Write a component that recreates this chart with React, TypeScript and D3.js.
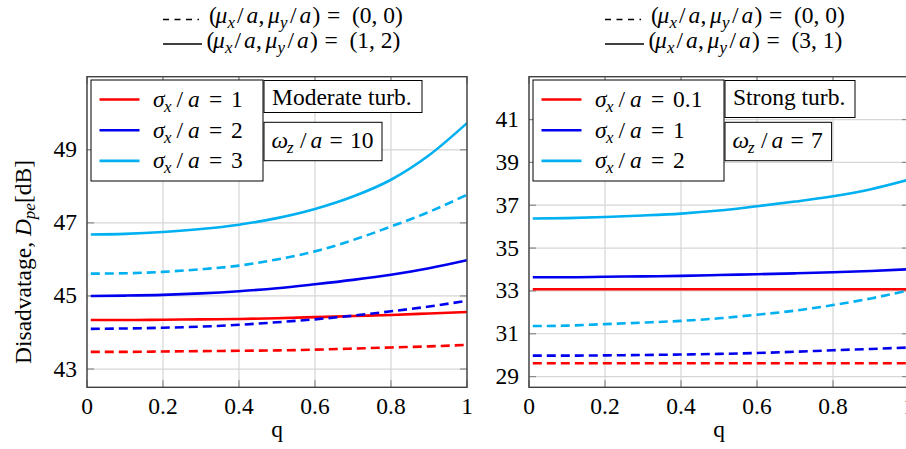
import React from "react";
import * as d3 from "d3";

const qVals = [0.01, 0.1, 0.2, 0.3, 0.4, 0.5, 0.6, 0.7, 0.8, 0.9, 1.0];

// Left panel: Moderate turbulence, omega_z/a = 10
const modS1Solid = [44.34, 44.34, 44.35, 44.36, 44.37, 44.39, 44.42, 44.45, 44.48, 44.52, 44.56];
const modS1Dash = [43.47, 43.47, 43.48, 43.49, 43.5, 43.51, 43.53, 43.56, 43.59, 43.62, 43.66];
const modS2Solid = [45.0, 45.01, 45.03, 45.07, 45.13, 45.21, 45.32, 45.44, 45.58, 45.76, 45.98];
const modS2Dash = [44.1, 44.11, 44.13, 44.16, 44.21, 44.28, 44.36, 44.46, 44.58, 44.71, 44.87];
const modS3Solid = [46.68, 46.7, 46.75, 46.83, 46.95, 47.13, 47.38, 47.72, 48.18, 48.85, 49.73];
const modS3Dash = [45.61, 45.62, 45.66, 45.73, 45.83, 46.0, 46.22, 46.53, 46.9, 47.3, 47.77];

// Right panel: Strong turbulence, omega_z/a = 7
const strS1Solid = [33.08, 33.08, 33.08, 33.08, 33.08, 33.08, 33.08, 33.08, 33.08, 33.08, 33.08];
const strS1Dash = [29.62, 29.62, 29.62, 29.62, 29.62, 29.62, 29.62, 29.62, 29.62, 29.62, 29.62];
const strS2Solid = [33.64, 33.64, 33.66, 33.68, 33.7, 33.74, 33.78, 33.82, 33.87, 33.93, 34.01];
const strS2Dash = [29.98, 29.98, 29.99, 30.01, 30.03, 30.06, 30.1, 30.16, 30.23, 30.29, 30.36];
const strS3Solid = [36.38, 36.4, 36.45, 36.52, 36.61, 36.75, 36.95, 37.17, 37.42, 37.75, 38.2];
const strS3Dash = [31.36, 31.38, 31.45, 31.52, 31.6, 31.72, 31.89, 32.08, 32.34, 32.65, 33.03];

const xTicks = [0, 0.2, 0.4, 0.6, 0.8, 1];
const xTickLabels = ["0", "0.2", "0.4", "0.6", "0.8", "1"];
const modYTicks = [43, 45, 47, 49];
const strYTicks = [29, 31, 33, 35, 37, 39, 41];
const modYDomain = [42.5, 51];
const strYDomain = [28.5, 43];

const modSigmaLabels = ["1", "2", "3"];
const strSigmaLabels = ["0.1", "1", "2"];
const modMu = "(1, 2)";
const strMu = "(3, 1)";
const zeroMu = "(0, 0)";

const colors = ["#ff0000", "#0000ee", "#00b0f0"];
const FONT = "Liberation Serif, DejaVu Serif, serif";
const FS = 23.5;

const PLOT_TOP = 76.7;
const PLOT_BOTTOM = 387.3;

type Seg = { t: string; it?: boolean; sub?: boolean; at: number };

function MathText({ x, y, segs, fs }: { x: number; y: number; segs: Seg[]; fs: number }) {
  return (
    <text x={x} y={y} fontFamily={FONT} fontSize={fs} fill="#000">
      {segs.map((s, i) => (
        <tspan
          key={i}
          x={x + s.at}
          y={s.sub ? y + fs * 0.22 : y}
          fontStyle={s.it ? "italic" : "normal"}
          fontSize={s.sub ? fs * 0.72 : fs}
        >
          {s.t}
        </tspan>
      ))}
    </text>
  );
}

function muSegs(value: string): Seg[] {
  return [
    { t: "(", at: 0 },
    { t: "μ", it: true, at: 6.5 },
    { t: "x", it: true, sub: true, at: 18.5 },
    { t: "/", at: 28 },
    { t: "a", it: true, at: 37.5 },
    { t: ",", at: 49.5 },
    { t: "μ", it: true, at: 59 },
    { t: "y", it: true, sub: true, at: 71 },
    { t: "/", at: 81 },
    { t: "a", it: true, at: 90.5 },
    { t: ")", at: 103.5 },
    { t: "=", at: 118 },
    { t: value, at: 143 },
  ];
}

function sigmaSegs(value: string): Seg[] {
  return [
    { t: "σ", it: true, at: 0 },
    { t: "x", it: true, sub: true, at: 11 },
    { t: "/", at: 23.5 },
    { t: "a", it: true, at: 35 },
    { t: "=", at: 56 },
    { t: value, at: 78 },
  ];
}

function omegaSegs(value: string): Seg[] {
  return [
    { t: "ω", it: true, at: 0 },
    { t: "z", it: true, sub: true, at: 15.5 },
    { t: "/", at: 28.5 },
    { t: "a", it: true, at: 39 },
    { t: "=", at: 58 },
    { t: value, at: 78.5 },
  ];
}

function Panel({
  x0,
  yDomain,
  yTicks,
  series,
  sigmaLabels,
  muValue,
  turbLabel,
  omegaValue,
  legendW,
  turbBoxW,
  turbBoxH,
  omegaBoxW,
}: {
  x0: number;
  yDomain: number[];
  yTicks: number[];
  series: { solid: number[]; dash: number[] }[];
  sigmaLabels: string[];
  muValue: string;
  turbLabel: string;
  omegaValue: string;
  legendW: number;
  turbBoxW: number;
  turbBoxH: number;
  omegaBoxW: number;
}) {
  const x1 = x0 + 380;
  const xScale = d3.scaleLinear().domain([0, 1]).range([x0, x1]);
  const yScale = d3.scaleLinear().domain(yDomain).range([PLOT_BOTTOM, PLOT_TOP]);
  const line = d3
    .line<number>()
    .x((_, i) => xScale(qVals[i]))
    .y((d) => yScale(d))
    .curve(d3.curveMonotoneX);
  const clipId = `clip-${x0}`;
  const legX = x0 + 4;
  const legY = 80;
  const boxX = legX + legendW + 1;
  return (
    <g>
      <defs>
        <clipPath id={clipId}>
          <rect x={x0} y={PLOT_TOP} width={380} height={PLOT_BOTTOM - PLOT_TOP} />
        </clipPath>
      </defs>
      {/* grid */}
      {xTicks.map((t) => (
        <line key={"gx" + t} x1={xScale(t)} x2={xScale(t)} y1={PLOT_TOP} y2={PLOT_BOTTOM} stroke="#d6d6d6" strokeWidth={1.2} />
      ))}
      {yTicks.map((t) => (
        <line key={"gy" + t} x1={x0} x2={x1} y1={yScale(t)} y2={yScale(t)} stroke="#d6d6d6" strokeWidth={1.2} />
      ))}
      {/* tick marks */}
      {xTicks.map((t) => (
        <g key={"tx" + t}>
          <line x1={xScale(t)} x2={xScale(t)} y1={PLOT_BOTTOM} y2={PLOT_BOTTOM - 7} stroke="#8a8a8a" strokeWidth={1.2} />
          <line x1={xScale(t)} x2={xScale(t)} y1={PLOT_TOP} y2={PLOT_TOP + 7} stroke="#8a8a8a" strokeWidth={1.2} />
        </g>
      ))}
      {yTicks.map((t) => (
        <g key={"ty" + t}>
          <line x1={x0} x2={x0 + 7} y1={yScale(t)} y2={yScale(t)} stroke="#8a8a8a" strokeWidth={1.2} />
          <line x1={x1} x2={x1 - 7} y1={yScale(t)} y2={yScale(t)} stroke="#8a8a8a" strokeWidth={1.2} />
        </g>
      ))}
      {/* data */}
      <g clipPath={`url(#${clipId})`}>
        {series.map((s, i) => (
          <g key={"s" + i}>
            <path d={line(s.dash) || ""} fill="none" stroke={colors[i]} strokeWidth={2.6} strokeDasharray="9 5" />
            <path d={line(s.solid) || ""} fill="none" stroke={colors[i]} strokeWidth={2.6} />
          </g>
        ))}
      </g>
      {/* frame */}
      <rect x={x0} y={PLOT_TOP} width={380} height={PLOT_BOTTOM - PLOT_TOP} fill="none" stroke="#404040" strokeWidth={1.4} />
      {/* tick labels */}
      {xTicks.map((t, i) => (
        <text key={"xl" + t} x={xScale(t)} y={414} textAnchor="middle" fontFamily={FONT} fontSize={FS} fill="#000">
          {xTickLabels[i]}
        </text>
      ))}
      {yTicks.map((t) => (
        <text key={"yl" + t} x={x0 - 10} y={yScale(t) + 7.5} textAnchor="end" fontFamily={FONT} fontSize={FS} fill="#000">
          {t}
        </text>
      ))}
      <text x={xScale(0.5)} y={437} textAnchor="middle" fontFamily={FONT} fontSize={FS} fill="#000">
        q
      </text>
      {/* series legend */}
      <rect x={legX} y={legY} width={legendW} height={101} fill="#fff" stroke="#000" strokeWidth={1} />
      {series.map((_, i) => {
        const cy = 99.5 + i * 30.7;
        return (
          <g key={"leg" + i}>
            <line x1={legX + 8.5} x2={legX + 48.5} y1={cy} y2={cy} stroke={colors[i]} strokeWidth={2.6} />
            <MathText x={legX + 62} y={cy + 7.3} fs={FS} segs={sigmaSegs(sigmaLabels[i])} />
          </g>
        );
      })}
      {/* turbulence label */}
      <rect x={boxX} y={80.5} width={turbBoxW} height={turbBoxH} fill="#fff" stroke="#000" strokeWidth={1} />
      <text x={boxX + 8} y={105} fontFamily={FONT} fontSize={FS} fill="#000">
        {turbLabel}
      </text>
      <rect x={boxX} y={122.3} width={omegaBoxW} height={38.4} fill="#fff" stroke="#000" strokeWidth={1} />
      <MathText x={boxX + 7.5} y={148.3} fs={FS} segs={omegaSegs(omegaValue)} />
      {/* top legend */}
      <line x1={x0 + 76} x2={x0 + 112} y1={19.5} y2={19.5} stroke="#000" strokeWidth={1.6} strokeDasharray="6 5.5" />
      <MathText x={x0 + 122} y={23} fs={FS} segs={muSegs(zeroMu)} />
      <line x1={x0 + 76} x2={x0 + 115} y1={44} y2={44} stroke="#000" strokeWidth={1.6} />
      <MathText x={x0 + 119.5} y={48} fs={FS} segs={muSegs(muValue)} />
    </g>
  );
}

export default function App() {
  const modSeries = [
    { solid: modS1Solid, dash: modS1Dash },
    { solid: modS2Solid, dash: modS2Dash },
    { solid: modS3Solid, dash: modS3Dash },
  ];
  const strSeries = [
    { solid: strS1Solid, dash: strS1Dash },
    { solid: strS2Solid, dash: strS2Dash },
    { solid: strS3Solid, dash: strS3Dash },
  ];
  return (
    <svg
      width={906}
      height={449}
      style={{ position: "absolute", left: 0, top: 0, background: "#fff" }}
    >
      <rect x={0} y={0} width={906} height={449} fill="#fff" />
      <Panel
        x0={87}
        yDomain={modYDomain}
        yTicks={modYTicks}
        series={modSeries}
        sigmaLabels={modSigmaLabels}
        muValue={modMu}
        turbLabel="Moderate turb."
        omegaValue="10"
        legendW={172}
        turbBoxW={158}
        turbBoxH={32}
        omegaBoxW={118}
      />
      <Panel
        x0={529}
        yDomain={strYDomain}
        yTicks={strYTicks}
        series={strSeries}
        sigmaLabels={strSigmaLabels}
        muValue={strMu}
        turbLabel="Strong turb."
        omegaValue="7"
        legendW={191}
        turbBoxW={130}
        turbBoxH={37}
        omegaBoxW={106.6}
      />
      <text
        transform="translate(31,262) rotate(-90)"
        textAnchor="middle"
        fontFamily={FONT}
        fontSize={FS}
        fill="#000"
      >
        Disadvatage, <tspan fontStyle="italic">D</tspan>
        <tspan fontStyle="italic" fontSize={17} dy={4}>pe</tspan>
        <tspan dy={-4}>[dB]</tspan>
      </text>
    </svg>
  );
}
